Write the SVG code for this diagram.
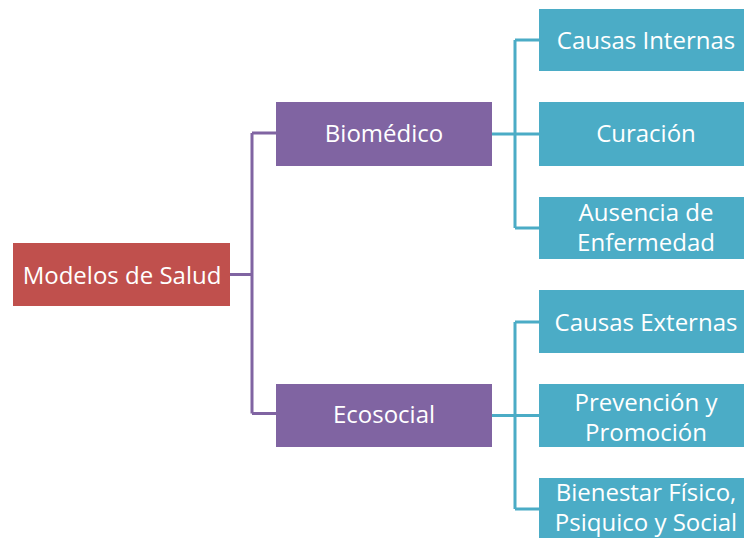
<svg xmlns="http://www.w3.org/2000/svg" width="744" height="538" viewBox="0 0 744 538">
<style>
.t{font-family:"Open Sans","Liberation Sans",sans-serif;font-size:24px;fill:#fff;text-anchor:middle}
.root{fill:#C0504D}
.mid{fill:#8064A2}
.leaf{fill:#4BACC6}
.cp{fill:none;stroke:#8064A2;stroke-width:3}
.cc{fill:none;stroke:#4BACC6;stroke-width:3}
</style>
<rect width="744" height="538" fill="#fff"/>
<g id="connectors">
<path class="cp" d="M230 274.5H252M252 133V413.5M252 133H276M252 413.5H276"/>
<path class="cc" d="M492 134H539M515 40V228M515 40H539M515 228H539"/>
<path class="cc" d="M492 415.5H539M515 322V509M515 322H539M515 509H539"/>
</g>
<g id="root"><rect class="root" x="13" y="243" width="217" height="63"/><text class="t" x="122" y="284">Modelos de Salud</text></g>
<g id="biomedico"><rect class="mid" x="276" y="102" width="216" height="64"/><text class="t" x="384" y="142">Biomédico</text></g>
<g id="ecosocial"><rect class="mid" x="276" y="384" width="216" height="63"/><text class="t" x="384" y="423">Ecosocial</text></g>
<g id="causas-internas"><rect class="leaf" x="539" y="9" width="215" height="62"/><text class="t" x="646" y="49">Causas Internas</text></g>
<g id="curacion"><rect class="leaf" x="539" y="102" width="215" height="64"/><text class="t" x="646" y="142">Curación</text></g>
<g id="ausencia"><rect class="leaf" x="539" y="197" width="215" height="62"/><text class="t" x="646" y="221">Ausencia de</text><text class="t" x="646" y="251">Enfermedad</text></g>
<g id="causas-externas"><rect class="leaf" x="539" y="290" width="215" height="63"/><text class="t" x="646" y="331">Causas Externas</text></g>
<g id="prevencion"><rect class="leaf" x="539" y="384" width="215" height="63"/><text class="t" x="646" y="411">Prevención y</text><text class="t" x="646" y="441">Promoción</text></g>
<g id="bienestar"><rect class="leaf" x="539" y="478" width="215" height="62"/><text class="t" x="646" y="501">Bienestar Físico,</text><text class="t" x="646" y="531">Psiquico y Social</text></g>
</svg>
